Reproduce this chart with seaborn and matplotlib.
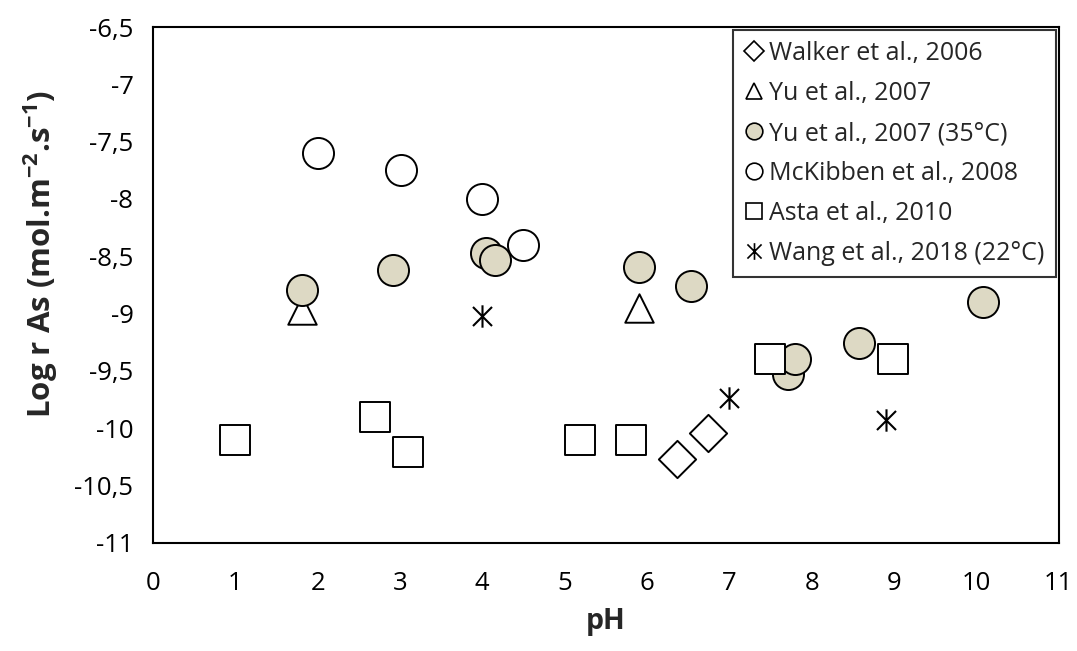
import matplotlib
matplotlib.use("Agg")
import matplotlib.pyplot as plt
import seaborn as sns
import pandas as pd
from matplotlib.path import Path
from matplotlib.ticker import FuncFormatter
from matplotlib.lines import Line2D

# Data
walker_x = [6.36, 6.74]
walker_y = [-10.27, -10.04]
yu_x = [1.81, 5.90]
yu_y = [-8.97, -8.95]
yu35_x = [1.81, 2.92, 4.05, 4.16, 5.90, 6.54, 7.71, 7.80, 8.58, 10.08]
yu35_y = [-8.79, -8.62, -8.47, -8.53, -8.59, -8.76, -9.53, -9.40, -9.26, -8.90]
mck_x = [2.0, 3.01, 4.0, 4.5]
mck_y = [-7.60, -7.75, -8.0, -8.40]
asta_x = [1.0, 2.7, 3.1, 5.19, 5.80, 7.50, 8.99]
asta_y = [-10.10, -9.90, -10.21, -10.10, -10.10, -9.40, -9.40]
wang_x = [4.0, 7.0, 8.9]
wang_y = [-9.02, -9.74, -9.93]

labels = ["Walker et al., 2006", "Yu et al., 2007", "Yu et al., 2007 (35°C)",
          "McKibben et al., 2008", "Asta et al., 2010", "Wang et al., 2018 (22°C)"]
x_ticks = list(range(0, 12))
y_ticks = [-11, -10.5, -10, -9.5, -9, -8.5, -8, -7.5, -7, -6.5]

sns.set_theme(style="white")
plt.rcParams['font.family'] = ['Open Sans', 'DejaVu Sans']
plt.rcParams['mathtext.fontset'] = 'custom'
plt.rcParams['mathtext.rm'] = 'Open Sans'
plt.rcParams['mathtext.bf'] = 'Open Sans:bold'
plt.rcParams['axes.unicode_minus'] = False

star = Path([(0, -1), (0, 1), (-0.85, -0.85), (0.85, 0.85), (-0.85, 0.85), (0.85, -0.85)],
            [Path.MOVETO, Path.LINETO, Path.MOVETO, Path.LINETO, Path.MOVETO, Path.LINETO])

beige = "#DDD9C4"
series = [
    (walker_x, walker_y, "D", "white", 360, 1.4),
    (yu_x, yu_y, "^", "white", 420, 1.4),
    (yu35_x, yu35_y, "o", beige, 500, 1.4),
    (mck_x, mck_y, "o", "white", 500, 1.4),
    (asta_x, asta_y, "s", "white", 480, 1.4),
    (wang_x, wang_y, star, "black", 260, 1.5),
]

fig = plt.figure(figsize=(10.77, 6.51), dpi=100)
ax = fig.add_axes([0.142, 0.166, 0.841, 0.7925])

order = [4, 0, 1, 5, 3, 2]
for i in order:
    xs, ys, m, fc, s, lw = series[i]
    df = pd.DataFrame({"pH": xs, "logr": ys})
    sns.scatterplot(data=df, x="pH", y="logr", ax=ax, marker=m, s=s,
                    color=fc, edgecolor="black", linewidth=lw, zorder=3 + i)

ax.set_xlim(0, 11)
ax.set_ylim(-11, -6.5)
ax.set_xticks(x_ticks)
ax.set_yticks(y_ticks)
ax.yaxis.set_major_formatter(FuncFormatter(lambda v, p: (f"{v:g}").replace(".", ",")))
ax.tick_params(length=0, labelsize=18.5, colors="black")
ax.tick_params(axis="x", pad=20)
ax.tick_params(axis="y", pad=14)
for sp in ax.spines.values():
    sp.set_color("black")
    sp.set_linewidth(1.5)

ax.set_xlabel("pH", fontsize=20.5, fontweight="bold", labelpad=8)
ax.set_ylabel("Log r As (mol.m$^{\\mathbf{-2}}$.s$^{\\mathbf{-1}}$)", fontsize=22.5,
              fontweight="bold")
ax.yaxis.set_label_coords(-0.103, 0.56)

handles = []
for i in range(6):
    xs, ys, m, fc, s, lw = series[i]
    ms = 12 if i != 5 else 12
    if m == "D":
        ms = 10
    handles.append(Line2D([], [], linestyle="none", marker=m, markersize=ms,
                          markerfacecolor=fc, markeredgecolor="black", markeredgewidth=1.2))
leg = fig.legend(handles, labels, loc="upper right", bbox_to_anchor=(0.9805, 0.954),
                 fontsize=18, frameon=True, fancybox=False, handlelength=0.75,
                 handletextpad=0.25, labelspacing=0.6, borderpad=0.45, borderaxespad=0)
leg.get_frame().set_edgecolor("black")
leg.get_frame().set_linewidth(1.5)
leg.set_zorder(2)

fig.savefig("out.png", dpi=100)
